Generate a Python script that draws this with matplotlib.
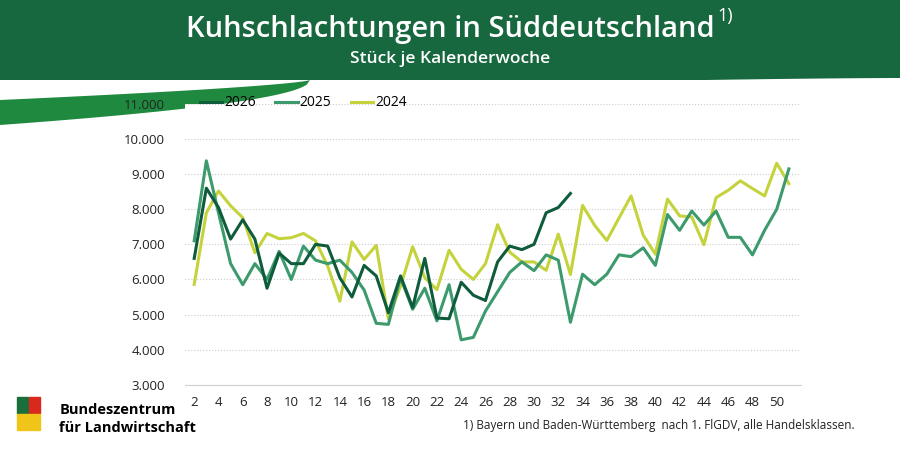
import matplotlib.pyplot as plt
import numpy as np
from matplotlib.patches import Polygon

plt.rcParams['font.family'] = ['Open Sans', 'DejaVu Sans']

weeks_2026 = list(range(2, 34))
values_2026 = [6600, 8600, 8050, 7150, 7700, 7150, 5750, 6750, 6450, 6450, 7000, 6950, 6050, 5500,
               6400, 6100, 5050, 6100, 5200, 6600, 4900, 4880, 5920, 5550, 5400, 6500, 6950, 6850,
               7000, 7900, 8050, 8450]
weeks_all = list(range(2, 52))
values_2025 = [7100, 9380, 7900, 6450, 5850, 6450, 6000, 6800, 6000, 6950, 6550, 6450, 6550, 6200,
               5700, 4750, 4720, 6050, 5150, 5750, 4820, 5850, 4280, 4350, 5100, 5650, 6200, 6500,
               6250, 6700, 6550, 4780, 6150, 5850, 6150, 6700, 6650, 6900, 6400, 7850, 7400, 7950,
               7550, 7950, 7200, 7200, 6700, 7400, 8000, 9150]
values_2024 = [5860, 7900, 8520, 8100, 7760, 6760, 7310, 7160, 7190, 7310, 7100, 6380, 5380, 7070,
               6570, 6970, 4880, 5810, 6930, 6050, 5710, 6830, 6290, 6000, 6450, 7560, 6780, 6500,
               6500, 6260, 7290, 6140, 8110, 7540, 7110, 7750, 8380, 7260, 6720, 8290, 7810, 7780,
               6990, 8330, 8540, 8810, 8590, 8380, 9310, 8730]
yticks = list(range(3000, 11001, 1000))
xticks = list(range(2, 51, 2))

fig = plt.figure(figsize=(9, 4.5), dpi=100)
dark = '#17683f'

# header band with swoosh
bg = fig.add_axes([0, 0, 1, 1], zorder=-1)
bg.set_xlim(0, 900); bg.set_ylim(450, 0); bg.axis('off')
xs = np.linspace(0, 900, 200)
curve = 78 + 20 * (1 - xs / 900) ** 1.5
bg.add_patch(Polygon(list(zip(xs, np.minimum(curve, 80))) + [(900, 0), (0, 0)], color=dark, lw=0))
sx = np.linspace(0, 310, 100)
top = 80 + 20 * (1 - sx / 310) ** 0.7
bot = 80 + 45 * (1 - sx / 310) ** 0.5
bg.add_patch(Polygon(list(zip(sx, top)) + list(zip(sx[::-1], bot[::-1])), color='#1f8a3f', lw=0))
fig.text(0.5, 0.935, 'Kuhschlachtungen in Süddeutschland', color='white', fontsize=21,
         ha='center', va='center', fontweight='semibold')
fig.text(0.797, 0.965, '1)', color='white', fontsize=13, ha='left', va='center')
fig.text(0.5, 0.868, 'Stück je Kalenderwoche', color='white', fontsize=12.5,
         ha='center', va='center', fontweight='semibold')

ax = fig.add_axes([0.205, 0.145, 0.685, 0.624])
ax.plot(weeks_2026, values_2026, color='#0f5c3c', lw=2.2, label='2026', zorder=3)
ax.plot(weeks_all, values_2025, color='#3d9a6c', lw=2.2, label='2025', zorder=2)
ax.plot(weeks_all, values_2024, color='#c4d33c', lw=2.2, label='2024', zorder=1)
ax.set_ylim(3000, 11000)
ax.set_xlim(1.2, 52)
ax.set_yticks(yticks)
ax.set_yticklabels([f'{v:,}'.replace(',', '.') for v in yticks])
ax.set_xticks(xticks)
ax.tick_params(length=0, labelsize=9.5, colors='#222222')
ax.tick_params(axis='y', pad=14)
ax.tick_params(axis='x', pad=8)
for s in ['top', 'right', 'left']:
    ax.spines[s].set_visible(False)
ax.spines['bottom'].set_color('#d0d0d0')
ax.grid(axis='y', ls=':', color='#cccccc', lw=0.8)
ax.set_axisbelow(True)
ax.legend(loc='upper left', bbox_to_anchor=(0.005, 1.075), ncol=3, frameon=False,
          fontsize=10, handlelength=1.6, columnspacing=1.4, handletextpad=0.15)

# logo
bg.add_patch(plt.Rectangle((17, 397), 11, 16, color='#1a6e3a'))
bg.add_patch(plt.Rectangle((29, 397), 11, 16, color='#d9281c'))
bg.add_patch(plt.Rectangle((17, 414), 11, 16, color='#f0c419'))
bg.add_patch(plt.Rectangle((29, 414), 11, 16, color='#f0c419'))
fig.text(0.066, 0.09, 'Bundeszentrum', fontsize=10.5, fontweight='bold', va='center')
fig.text(0.066, 0.05, 'für Landwirtschaft', fontsize=10.5, fontweight='bold', va='center')
fig.text(0.95, 0.055, '1) Bayern und Baden-Württemberg  nach 1. FlGDV, alle Handelsklassen.',
         fontsize=8.5, ha='right', va='center', color='#222222')

fig.savefig('out.png', dpi=100)
